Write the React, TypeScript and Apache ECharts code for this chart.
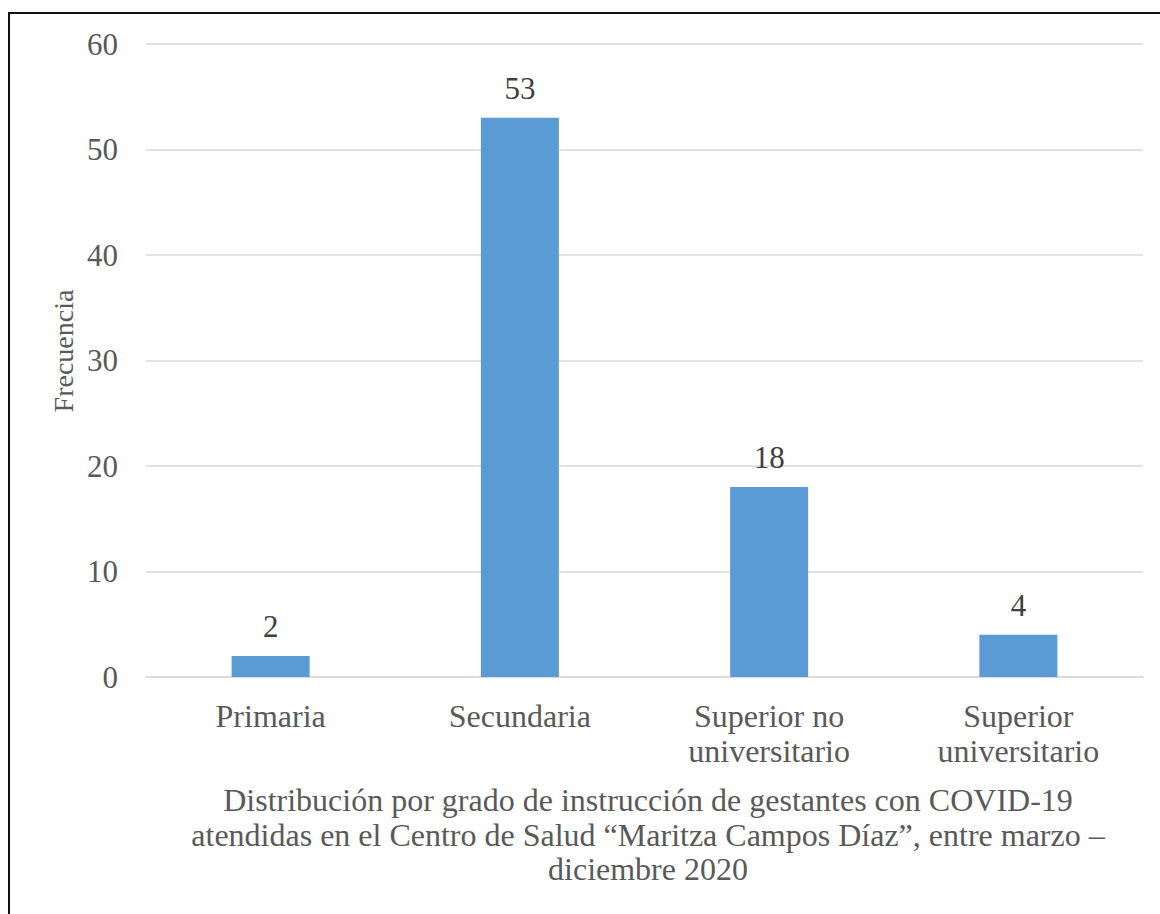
import React, { useEffect, useRef } from "react";
import * as echarts from "echarts";

const categories = ["Primaria", "Secundaria", "Superior no\nuniversitario", "Superior\nuniversitario"];
const frequencies = [2, 53, 18, 4];
const yTicks = [0, 10, 20, 30, 40, 50, 60];
const axisName = "Frecuencia";
const caption =
  "Distribución por grado de instrucción de gestantes con COVID-19\natendidas en el Centro de Salud “Maritza Campos Díaz”, entre marzo –\ndiciembre 2020";

const FONT = "'Liberation Serif', 'Times New Roman', serif";
const GRAY = "#595959";

export default function App() {
  const ref = useRef<HTMLDivElement>(null);
  useEffect(() => {
    if (!ref.current) return;
    const chart = echarts.init(ref.current, undefined, { renderer: "svg" });
    chart.setOption({
      animation: false,
      backgroundColor: "#ffffff",
      grid: { left: 146, right: 17, top: 44, bottom: 237, containLabel: false },
      xAxis: {
        type: "category",
        data: categories,
        axisLine: { show: true, lineStyle: { color: "#D9D9D9", width: 1.5 } },
        axisTick: { show: false },
        axisLabel: {
          color: GRAY,
          fontFamily: FONT,
          fontSize: 32,
          lineHeight: 35,
          margin: 21,
          interval: 0,
        },
      },
      yAxis: {
        type: "value",
        min: yTicks[0],
        max: yTicks[yTicks.length - 1],
        interval: 10,
        axisLine: { show: false },
        axisTick: { show: false },
        splitLine: { lineStyle: { color: "#D9D9D9", width: 1.5 } },
        axisLabel: { color: GRAY, fontFamily: FONT, fontSize: 31, margin: 28 },
      },
      series: [
        {
          type: "bar",
          data: frequencies,
          barWidth: 78,
          itemStyle: { color: "#5B9BD5" },
          label: {
            show: true,
            position: "top",
            distance: 14,
            color: "#404040",
            fontFamily: FONT,
            fontSize: 31,
          },
        },
      ],
      graphic: [
        {
          type: "text",
          x: 63,
          y: 351,
          rotation: Math.PI / 2,
          style: {
            text: axisName,
            fill: GRAY,
            fontSize: 28,
            fontFamily: FONT,
            textAlign: "center",
            textVerticalAlign: "middle",
          },
        },
        {
          type: "text",
          x: 648,
          y: 783,
          style: {
            text: caption,
            fill: GRAY,
            fontSize: 32,
            fontFamily: FONT,
            lineHeight: 34.5,
            textAlign: "center",
          },
        },
        {
          type: "rect",
          shape: { x: 9, y: 13, width: 1200, height: 1000 },
          style: { fill: "none", stroke: "#111111", lineWidth: 2 },
          silent: true,
        },
      ],
    });
    return () => chart.dispose();
  }, []);
  return (
    <div
      ref={ref}
      style={{ position: "fixed", left: 0, top: 0, width: 1160, height: 914 }}
    />
  );
}
